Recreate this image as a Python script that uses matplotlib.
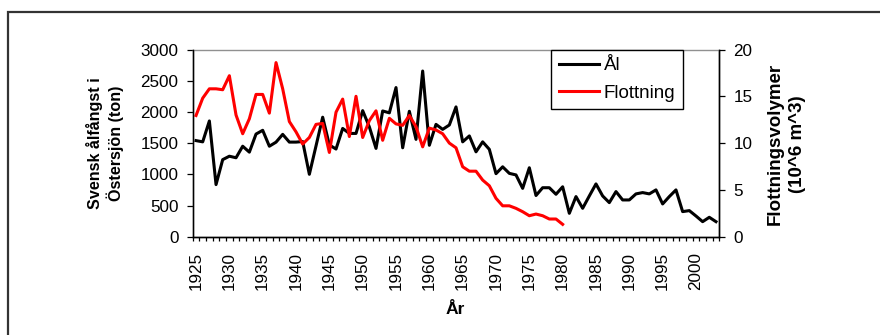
import matplotlib
matplotlib.use("Agg")
import matplotlib.pyplot as plt
from matplotlib.patches import Rectangle
from matplotlib.ticker import MultipleLocator, FixedLocator

plt.rcParams['font.family'] = ['Liberation Sans', 'DejaVu Sans']

years_al = list(range(1925, 2004))
al = [1540, 1520, 1855, 835, 1235, 1290, 1265, 1450, 1355, 1645,
      1705, 1450, 1515, 1640, 1516, 1516, 1525, 1000, 1455, 1915,
      1470, 1405, 1735, 1655, 1655, 2020, 1760, 1415, 2015, 1985,
      2390, 1425, 2010, 1560, 2655, 1465, 1800, 1720, 1790, 2080,
      1520, 1615, 1360, 1520, 1400, 1010, 1120, 1015, 990, 775,
      1105, 660, 785, 785, 680, 800, 375, 643, 455, 653,
      846, 653, 546, 723, 589, 589, 686, 707, 686, 750,
      525, 643, 750, 402, 418, 332, 241, 311, 241]

years_fl = list(range(1925, 1981))
flottning = [12.95, 14.8, 15.8, 15.8, 15.7, 17.2, 13.0, 11.0, 12.6, 15.2,
             15.2, 13.2, 18.6, 15.8, 12.3, 11.2, 9.9, 10.6, 12.0, 12.1,
             9.0, 13.3, 14.7, 10.7, 15.0, 10.6, 12.4, 13.45, 10.3, 12.65,
             12.05, 11.9, 12.95, 11.75, 9.6, 11.6, 11.4, 11.0, 10.0, 9.5,
             7.47, 7.0, 7.0, 6.05, 5.44, 4.1, 3.3, 3.3, 3.03, 2.67,
             2.24, 2.42, 2.24, 1.89, 1.89, 1.32]

xtick_years = list(range(1925, 2001, 5))
left_label = "Svensk ålfångst i\nÖstersjön (ton)"
right_label = "Flottningsvolymer\n(10^6 m^3)"
x_label = "År"

W, H = 880, 335
fig = plt.figure(figsize=(W / 100, H / 100), dpi=100)
fig.patch.set_facecolor('white')

L, R, T, B = 192.7, 719.3, 49.5, 236.7
ax = fig.add_axes([L / W, 1 - B / H, (R - L) / W, (B - T) / H])
ax2 = ax.twinx()

# outer frame
fig.patches.append(Rectangle((8 / W, -0.1), 1.2, 1 - 12 / H + 0.1,
                             transform=fig.transFigure, fill=False,
                             edgecolor='#333333', linewidth=1.6))

l1, = ax.plot(years_al, al, color='black', linewidth=2.2, label='Ål')
l2, = ax2.plot(years_fl, flottning, color='#ff0000', linewidth=2.2, label='Flottning')

ax.set_xlim(1924.5, 2003.5)
ax.set_ylim(0, 3000)
ax2.set_ylim(0, 20)

ax.yaxis.set_major_locator(MultipleLocator(500))
ax2.yaxis.set_major_locator(MultipleLocator(5))
ax.xaxis.set_major_locator(FixedLocator(xtick_years))
ax.xaxis.set_minor_locator(FixedLocator([y + 0.5 for y in range(1924, 2004)]))
ax.set_xticklabels([str(y) for y in xtick_years], rotation=90)

ax.tick_params(axis='x', which='major', length=0, pad=11, labelsize=12.3)
ax.tick_params(axis='x', which='minor', length=3, width=0.9, direction='out')
ax.tick_params(axis='y', length=4.3, width=0.9, direction='out', pad=6, labelsize=12.3)
ax2.tick_params(axis='y', length=4.3, width=0.9, direction='out', pad=6, labelsize=12.3)

for a in (ax, ax2):
    for s in a.spines.values():
        s.set_linewidth(1.0)
        s.set_color('black')
ax.spines['top'].set_color('#909090')
ax2.spines['top'].set_visible(False)
ax.spines['left'].set_color('#404040')

fig.text(105 / W, 1 - 143 / H, left_label, rotation=90, ha='center', va='center',
         fontsize=11.6, fontweight='bold', linespacing=1.25)
fig.text(786 / W, 1 - 144 / H, right_label, rotation=90, ha='center', va='center',
         fontsize=13.5, fontweight='bold', linespacing=1.4)
fig.text(455 / W, 1 - 310 / H, x_label, ha='center', va='center',
         fontsize=12.5, fontweight='bold')

leg = ax2.legend(handles=[l1, l2], loc='upper left',
                 bbox_to_anchor=((551.3 - L) / (R - L), 1.0),
                 borderaxespad=0, fontsize=13.5, handlelength=2.15,
                 handletextpad=0.25, borderpad=0.4, labelspacing=0.55,
                 fancybox=False, shadow=False, framealpha=1)
leg.get_frame().set_edgecolor('black')
leg.get_frame().set_linewidth(1.0)

fig.savefig('out.png', dpi=100)
